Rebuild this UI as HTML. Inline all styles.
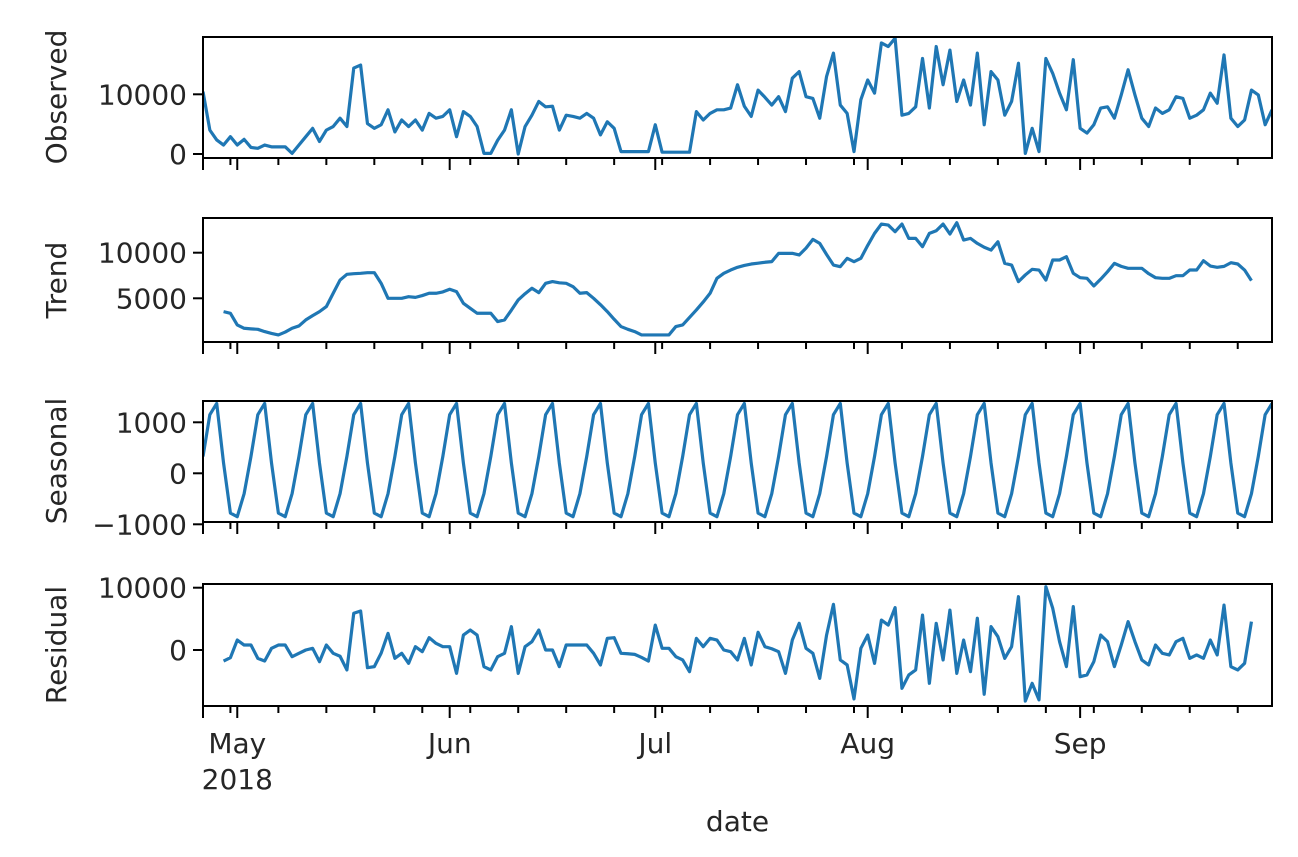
<!DOCTYPE html>
<html><head><meta charset="utf-8"><style>
html,body{margin:0;padding:0;background:#fff;}
svg text{font-family:"DejaVu Sans","Liberation Sans",sans-serif;fill:#262626;}
</style></head><body>
<svg id="chart" width="1298" height="852" viewBox="0 0 1298 852" xmlns="http://www.w3.org/2000/svg"></svg>
<script>
const observed = [10450,4000,2350,1500,2900,1500,2450,1100,950,1500,1200,1200,1200,100,1500,2900,4300,2100,4000,4600,
6000,4600,14400,14900,5100,4300,4900,7400,3700,5700,4600,5700,4000,6800,6000,6300,7400,2900,7100,6300,
4600,100,100,2300,4000,7400,0,4600,6500,8800,7900,8000,4000,6500,6300,6000,6800,6000,3200,5400,
4300,400,400,400,400,400,4900,300,300,300,300,300,7100,5700,6800,7400,7400,7700,11600,8000,
6300,10700,9500,8200,9600,7100,12700,13800,9600,9300,6000,13000,16900,8200,6800,400,9100,12400,10200,18600,
18000,19400,6500,6800,7900,16000,7700,18000,11600,17400,8800,12400,8200,16900,4900,13800,12400,6500,8800,15200,
100,4300,400,16000,13500,10200,7400,15800,4300,3500,4900,7700,7900,6000,9900,14100,9900,6000,4600,7700,
6800,7400,9600,9300,6000,6500,7400,10200,8500,16600,6000,4600,5700,10700,9900,4900,7400];
const trend = [null,null,null,3540,3360,2080,1715,1650,1600,1350,1150,985,1300,1715,1970,2630,3100,3540,4090,5550,
7000,7630,7700,7740,7810,7810,6640,5000,5000,5000,5180,5100,5300,5550,5550,5700,5990,5730,4450,3900,
3360,3360,3360,2450,2630,3700,4820,5500,6100,5620,6640,6830,6700,6640,6280,5550,5620,5000,4300,3540,
2700,1900,1600,1350,985,985,985,985,985,1900,2080,2900,3720,4600,5550,7190,7740,8100,8400,8600,
8760,8850,8950,9020,9930,9930,9930,9750,10500,11460,11020,9800,8650,8470,9380,9020,9380,10800,12120,13140,
13030,12300,13140,11570,11570,10660,12120,12410,13140,12050,13290,11390,11570,11020,10600,10290,11200,8830,8650,6830,
7560,8180,8100,7000,9200,9200,9560,7740,7260,7190,6350,7100,7920,8830,8500,8290,8290,8290,7700,7260,
7190,7190,7480,7480,8100,8100,9120,8540,8400,8500,8900,8760,8100,6940,null,null,null];
const seasonal = [330,1150,1370,200,-780,-850,-400,
330,1150,1370,200,-780,-850,-400, 330,1150,1370,200,-780,-850,-400, 330,1150,1370,200,-780,-850,-400,
330,1150,1370,200,-780,-850,-400, 330,1150,1370,200,-780,-850,-400, 330,1150,1370,200,-780,-850,-400,
330,1150,1370,200,-780,-850,-400, 330,1150,1370,200,-780,-850,-400, 330,1150,1370,200,-780,-850,-400,
330,1150,1370,200,-780,-850,-400, 330,1150,1370,200,-780,-850,-400, 330,1150,1370,200,-780,-850,-400,
330,1150,1370,200,-780,-850,-400, 330,1150,1370,200,-780,-850,-400, 330,1150,1370,200,-780,-850,-400,
330,1150,1370,200,-780,-850,-400, 330,1150,1370,200,-780,-850,-400, 330,1150,1370,200,-780,-850,-400,
330,1150,1370,200,-780,-850,-400, 330,1150,1370,200,-780,-850,-400, 330,1150,1370,200,-780,-850,-400,
330,1150,1370];
const residual = [null,null,null,-1770,-1230,1600,800,800,-1340,-1770,270,800,800,-1070,-535,0,270,-1870,800,-535,
-1000,-3200,5900,6260,-2840,-2670,-500,2670,-1340,-535,-2140,535,-270,1980,1070,535,535,-3750,2400,3200,
2400,-2670,-3200,-1070,-535,3750,-3750,535,1340,3200,0,0,-2670,800,800,800,800,-535,-2400,1870,
1980,-535,-600,-700,-1200,-1770,4000,270,270,-1070,-1600,-3480,1870,535,1870,1600,0,-270,-1600,1870,
-2400,2840,535,200,-270,-3750,1600,4280,270,-535,-4550,2400,7330,-1600,-2400,-7860,270,2400,-2140,4800,
4000,6800,-6150,-4000,-3200,5600,-5350,4280,-1600,6400,-3750,1600,-3480,5100,-7100,3750,2140,-1340,535,8560,
-8200,-5350,-8000,10160,6700,1340,-2670,6960,-4280,-4000,-1870,2400,1340,-2670,800,4550,1340,-1600,-2400,800,
-535,-800,1340,1870,-1340,-800,-1340,1600,-800,7200,-2670,-3200,-2140,4550,null,null,null];
const monthLabels = ["May","Jun","Jul","Aug","Sep"];
const monthDays = [5,36,66,97,128];
const obsTicks = [0,10000];
const trendTicks = [5000,10000];
const seasTicks = [-1000,0,1000];
const residTicks = [0,10000];

const NS = "http://www.w3.org/2000/svg";
const svg = document.getElementById('chart');
const X0 = 203, X1 = 1272, N = 156;
function xs(d){ return X0 + d*(X1-X0)/N; }
function mk(tag, attrs){ const e = document.createElementNS(NS, tag); for (const k in attrs) e.setAttribute(k, attrs[k]); return e; }

const panels = [
  {name:'observed', label:'Observed', data:observed, ticks:obsTicks, top:37, bot:158, v0:0, y0:154, v1:10000, y1:94.3, cy:97},
  {name:'trend', label:'Trend', data:trend, ticks:trendTicks, top:218, bot:342, v0:5000, y0:298.3, v1:10000, y1:252.7, cy:280},
  {name:'seasonal', label:'Seasonal', data:seasonal, ticks:seasTicks, top:401, bot:522, v0:0, y0:473.3, v1:1000, y1:422.3, cy:461},
  {name:'residual', label:'Residual', data:residual, ticks:residTicks, top:584, bot:706, v0:0, y0:650, v1:10000, y1:587.7, cy:645}
];

panels.forEach((p, pi) => {
  const g = mk('g', {});
  
  
  svg.appendChild(g);
  const ys = v => p.y0 + (v - p.v0) * (p.y1 - p.y0) / (p.v1 - p.v0);
  // line
  let d = '', pen = false;
  p.data.forEach((v, i) => {
    if (v === null) { pen = false; return; }
    d += (pen ? 'L' : 'M') + xs(i).toFixed(2) + ' ' + ys(v).toFixed(2) + ' ';
    pen = true;
  });
  const clip = mk('clipPath', {id:'clip'+pi});
  clip.appendChild(mk('rect', {x:X0, y:p.top, width:X1-X0, height:p.bot-p.top}));
  svg.appendChild(clip);
  const path = mk('path', {d:d, fill:'none', stroke:'#1f77b4', 'stroke-width':3.2, 'stroke-linejoin':'round', 'clip-path':'url(#clip'+pi+')'});
  
  
  g.appendChild(path);
  // frame
  const fr = mk('rect', {x:X0, y:p.top, width:X1-X0, height:p.bot-p.top, fill:'none', stroke:'#000', 'stroke-width':2});
  
  
  g.appendChild(fr);
  // y ticks
  p.ticks.forEach(t => {
    const y = ys(t);
    g.appendChild(mk('line', {x1:X0-10, x2:X0, y1:y, y2:y, stroke:'#000', 'stroke-width':2}));
    const tx = mk('text', {x:X0-16, y:y+10, 'font-size':28, 'text-anchor':'end'});
    
    
    tx.textContent = t < 0 ? '\u2212' + Math.abs(t) : String(t);
    g.appendChild(tx);
  });
  // y label
  const yl = mk('text', {x:0, y:0, 'font-size':28, 'text-anchor':'middle', transform:'translate(66,' + p.cy + ') rotate(-90)'});
  
  
  yl.textContent = p.label;
  g.appendChild(yl);
  // x ticks
  for (let dd = 4; dd <= N; dd += 7) {
    g.appendChild(mk('line', {x1:xs(dd), x2:xs(dd), y1:p.bot, y2:p.bot+7, stroke:'#000', 'stroke-width':2}));
  }
  [0].concat(monthDays).forEach(dd => {
    g.appendChild(mk('line', {x1:xs(dd), x2:xs(dd), y1:p.bot, y2:p.bot+12, stroke:'#000', 'stroke-width':2}));
  });
});

monthLabels.forEach((m, i) => {
  const t = mk('text', {x:xs(monthDays[i]), y:753, 'font-size':28, 'text-anchor':'middle'});
  
  
  t.textContent = m;
  svg.appendChild(t);
});
const yr = mk('text', {x:xs(monthDays[0]), y:789, 'font-size':28, 'text-anchor':'middle'});


yr.textContent = '2018';
svg.appendChild(yr);
const xt = mk('text', {x:(X0+X1)/2, y:831, 'font-size':28, 'text-anchor':'middle'});


xt.textContent = 'date';
svg.appendChild(xt);
</script>
</body></html>
